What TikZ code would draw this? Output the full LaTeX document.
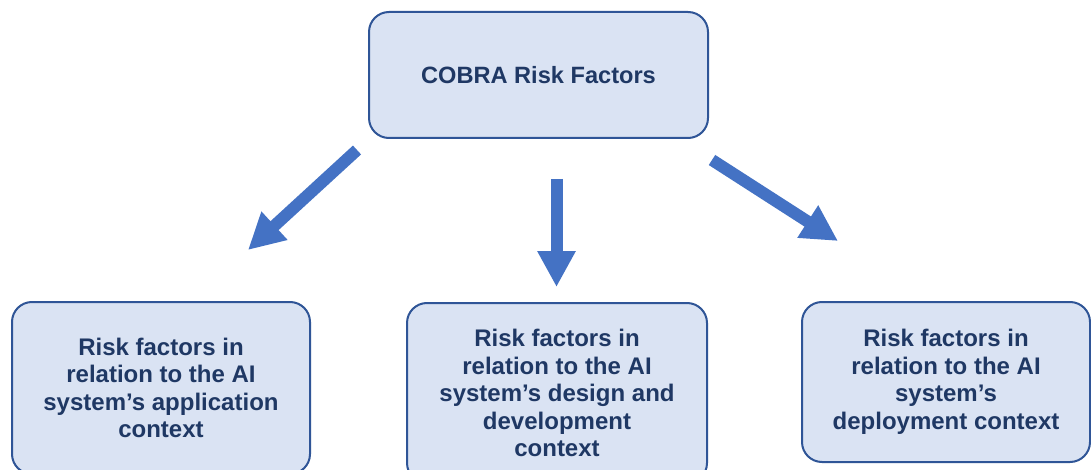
\documentclass[tikz,border=0pt]{standalone}
\usepackage{fontspec}
\setmainfont{Liberation Sans}
\usetikzlibrary{arrows.meta}
\definecolor{boxfill}{HTML}{DAE3F3}
\definecolor{boxline}{HTML}{2F5597}
\definecolor{boxtext}{HTML}{1F3864}
\definecolor{arrowblue}{HTML}{4472C4}
\begin{document}
\begin{tikzpicture}[x=1pt,y=-1pt,
  factorbox/.style={draw=boxline, line width=2pt, fill=boxfill, rounded corners=20pt,
    text=boxtext, font=\bfseries\fontsize{24}{27.5}\selectfont, align=center,
    inner sep=0pt, anchor=center},
  blockarrow/.style={draw=arrowblue, line width=12pt, line cap=butt,
    -{Triangle[length=36pt,width=36pt]}}]
  \clip (0,0) rectangle (1091,470);
  \fill[white] (0,0) rectangle (1091,470);

  % root and the three groups of risk factors
  \node[factorbox, font=\bfseries\fontsize{23.6}{27.5}\selectfont,
    minimum width=339pt, minimum height=126pt] (root) at (538.5,75)
    {COBRA Risk Factors};
  \node[factorbox, minimum width=298pt, minimum height=172pt] (app) at (161,388)
    {Risk factors in\\relation to the AI\\system’s application\\context};
  \node[factorbox, minimum width=300pt, minimum height=180pt] (design) at (557,393)
    {Risk factors in\\relation to the AI\\system’s design and\\development\\context};
  \node[factorbox, minimum width=288pt, minimum height=160pt] (deploy) at (946,382)
    {Risk factors in\\relation to the AI\\system’s\\deployment context};

  % free-standing block arrows between the levels
  \coordinate (lt) at (357,150);  \coordinate (lh) at (248,250);
  \coordinate (mt) at (556.5,179); \coordinate (mh) at (556.5,287);
  \coordinate (rt) at (712,160);  \coordinate (rh) at (838,241);
  \draw[blockarrow] (lt) -- (lh);
  \draw[blockarrow] (mt) -- (mh);
  \draw[blockarrow] (rt) -- (rh);
\end{tikzpicture}
\end{document}
